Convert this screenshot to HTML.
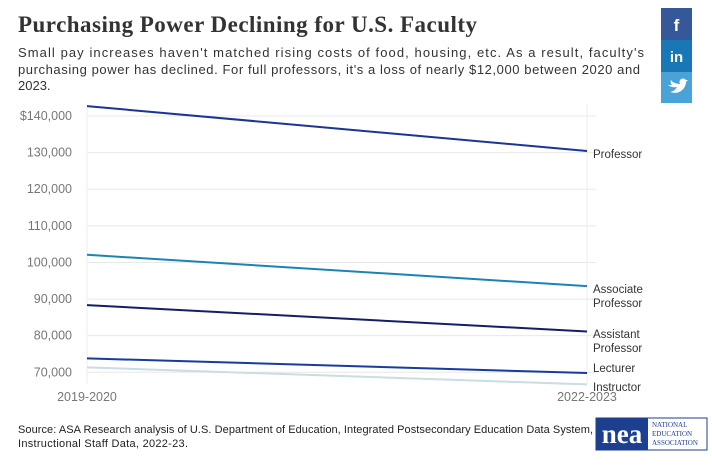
<!DOCTYPE html>
<html><head><meta charset="utf-8"><style>
body{margin:0;background:#fff;width:712px;height:465px;overflow:hidden;font-family:"Liberation Sans",sans-serif}
svg{display:block}
</style></head><body>
<svg width="712" height="465">
<text x="18" y="32" font-family="Liberation Serif,serif" font-weight="bold" font-size="23" fill="#333" textLength="459">Purchasing Power Declining for U.S. Faculty</text>
<g font-size="13" fill="#333">
<text x="18" y="57" textLength="626">Small pay increases haven't matched rising costs of food, housing, etc. As a result, faculty's</text>
<text x="18" y="74" textLength="622">purchasing power has declined. For full professors, it's a loss of nearly $12,000 between 2020 and</text>
<text x="18" y="90">2023.</text>
</g>
<rect x="661" y="8" width="31" height="32" fill="#34589a"/>
<text x="676.5" y="31" text-anchor="middle" fill="#fff" font-weight="bold" font-size="17">f</text>
<rect x="661" y="40" width="31" height="32" fill="#1a77b5"/>
<text x="676.5" y="62" text-anchor="middle" fill="#fff" font-weight="bold" font-size="15">in</text>
<rect x="661" y="72" width="31" height="31" fill="#4aa3d6"/>
<path d="M668 85 q4 3 9 2 q-2 4-7 5 q9 3 14-4 q2-3 2-6 l2-2 -2 0 q-3-3-6 0 q-1 2 0 4 q-6 0-9-4 q-1 3 1 5z" fill="#fff"/>
<g id="plot"></g>
<g font-size="11" fill="#222">
<text x="18" y="433" textLength="575">Source: ASA Research analysis of U.S. Department of Education, Integrated Postsecondary Education Data System,</text>
<text x="18" y="447" textLength="170">Instructional Staff Data, 2022-23.</text>
</g>
<g>
<rect x="596" y="418" width="111" height="32" fill="#fff" stroke="#1d3f8f"/>
<rect x="596" y="418" width="52" height="32" fill="#1d3f8f"/>
<text x="622" y="443" text-anchor="middle" fill="#fff" font-family="Liberation Serif,serif" font-weight="bold" font-size="27">nea</text>
<g font-family="Liberation Serif,serif" font-size="7" fill="#1d3f8f">
<text x="652" y="427">NATIONAL</text>
<text x="652" y="436">EDUCATION</text>
<text x="652" y="445">ASSOCIATION</text>
</g></g>
</svg>
<script>
const categories=["2019-2020","2022-2023"];
const seriesNames=["Professor","Associate Professor","Assistant Professor","Lecturer","Instructor"];
const professor=[142700,130450];
const associate=[102100,93550];
const assistant=[88350,81150];
const lecturer=[73800,69800];
const instructor=[71350,66700];
const yTicks=[70000,80000,90000,100000,110000,120000,130000,140000];
const yTickLabels=["70,000","80,000","90,000","100,000","110,000","120,000","130,000","$140,000"];
const colors=["#1c3494","#1b84b5","#141e66","#173c9e","#c9dde2"];
const labelLines=[["Professor"],["Associate","Professor"],["Assistant","Professor"],["Lecturer"],["Instructor"]];
const labelY=[158,293,338,372,391];
const NS="http://www.w3.org/2000/svg";
const g=document.getElementById('plot');
const x0=87,x1=587;
function xs(i){return x0+(x1-x0)*i/(categories.length-1);}
function ys(v){return 372.3-(v-70000)*(256.3/70000);}
function mk(t,a,p){const e=document.createElementNS(NS,t);for(const k in a)e.setAttribute(k,a[k]);(p||g).appendChild(e);return e;}
yTicks.forEach((v,i)=>{
 const l=mk('line',{x1:x0,x2:596,y1:ys(v),y2:ys(v),stroke:'#e8e8e8'});
 
 
 const t=mk('text',{x:72,y:ys(v)+4,'text-anchor':'end','font-size':12.5,fill:'#777'});
 t.textContent=yTickLabels[i];
 
 
});
categories.forEach((c,i)=>{
 const l=mk('line',{x1:xs(i),x2:xs(i),y1:104,y2:384,stroke:'#eee'});
 
 
 const t=mk('text',{x:xs(i),y:401,'text-anchor':'middle','font-size':12.5,fill:'#777'});
 t.textContent=c;
 
 
});
[professor,associate,assistant,lecturer,instructor].forEach((s,k)=>{
 const p=mk('polyline',{points:s.map((v,i)=>xs(i)+','+ys(v)).join(' '),fill:'none',stroke:colors[k],'stroke-width':2});
 
 
 labelLines[k].forEach((ln,j)=>{
  const t=mk('text',{x:593,y:labelY[k]+j*14,'font-size':11.5,fill:'#333'});
  t.textContent=ln;
  
  
 });
});
</script>
</body></html>
